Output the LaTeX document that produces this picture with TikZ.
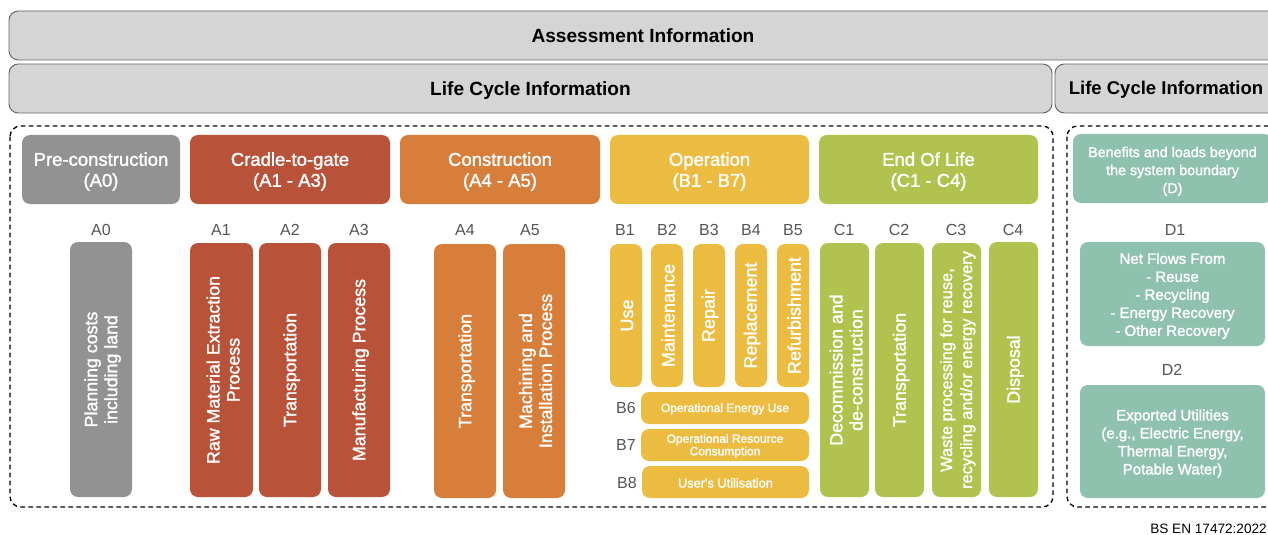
\documentclass[tikz,border=0pt]{standalone}
\usepackage{fontspec}
\setmainfont{Liberation Sans}
\newfontfamily\medf[FakeBold=1.6]{Liberation Sans}
\newcommand\fp[2]{\fontsize{\the\dimexpr#1pt*3/4\relax}{\the\dimexpr#2pt*3/4\relax}\selectfont}
\definecolor{cgrey}{HTML}{929292}
\definecolor{cred}{HTML}{B8533A}
\definecolor{corange}{HTML}{D67E3A}
\definecolor{cyellow}{HTML}{ECBC41}
\definecolor{cgreen}{HTML}{B2C24E}
\definecolor{cteal}{HTML}{8FC1AF}
\definecolor{cpanel}{HTML}{D5D5D5}
\definecolor{cedge}{HTML}{666666}
\definecolor{clabel}{HTML}{555555}
\tikzset{
  cell/.style={inner sep=0pt,rounded corners=6pt},
  words/.style={inner sep=0pt,align=center,text=white},
  panel/.style={draw=cedge,line width=0.7pt,fill=cpanel,rounded corners=7pt},
  title/.style={inner sep=0pt,yshift=-1.5pt,font=\fp{19.1}{24}\bfseries},
  titleb/.style={inner sep=0pt,yshift=-1.5pt,font=\fp{18.5}{24}\bfseries},
  zone/.style={draw=black,line width=1pt,dash pattern=on 3.4pt off 2.6pt,rounded corners=8pt},
  tag/.style={inner sep=0pt,text=clabel,font=\fp{16}{18}},
  head/.style={yshift=-1.5pt,font=\medf\fp{18.5}{21}},
  headd/.style={yshift=-2.2pt,font=\medf\fp{14.3}{18}},
  bar/.style={xshift=1.2pt,font=\medf\fp{17.8}{20}},
  bars/.style={xshift=0.8pt,font=\medf\fp{18}{20}},
  barw/.style={xshift=1pt,font=\medf\fp{16.4}{20}},
  note/.style={yshift=-1.5pt,font=\medf\fp{15}{18}},
  thin/.style={yshift=-0.7pt,font=\medf\fp{12}{11}},
  thinb/.style={yshift=-0.7pt,font=\medf\fp{12.8}{11}},
}
% name, x0, y0, x1, y1, text style, colour, text
\newcommand\hcell[8]{%
  \pgfmathsetmacro\cellw{(#4-#2)*0.75}\pgfmathsetmacro\cellh{(#5-#3)*0.75}%
  \node[cell,fill=#7,minimum width=\cellw pt,minimum height=\cellh pt] (#1) at ({(#2+#4)/2},{(#3+#5)/2}) {};
  \node[words,#6] (#1-text) at (#1.center) {#8};}
\newcommand\vcell[8]{%
  \pgfmathsetmacro\cellw{(#4-#2)*0.75}\pgfmathsetmacro\cellh{(#5-#3)*0.75}%
  \node[cell,fill=#7,minimum width=\cellw pt,minimum height=\cellh pt] (#1) at ({(#2+#4)/2},{(#3+#5)/2}) {};
  \node[words,#6,rotate=90] (#1-text) at (#1.center) {#8};}
\begin{document}
\begin{tikzpicture}[x=0.75pt,y=-0.75pt]
\useasboundingbox (0,0) rectangle (1268,535);
\clip (0,0) rectangle (1268,535);
\fill[white] (0,0) rectangle (1268,535);
% panels
\draw[panel] (9,11) rectangle (1295,60);
\node[title] (assess) at (643,33.5) {Assessment Information};
\draw[panel] (9,64) rectangle (1052,113);
\node[title] (lci) at (530.5,88.5) {Life Cycle Information};
\draw[panel] (1055,64) rectangle (1295,113);
\node[titleb] (lcid) at (1166,88) {Life Cycle Information};
% zones
\draw[zone] (10,126) rectangle (1053,507);
\draw[zone] (1067,126) rectangle (1295,507);
% headers
\hcell{h0}{22}{135}{180}{204}{head}{cgrey}{Pre-construction\\(A0)}
\hcell{h1}{190}{135}{390}{204}{head}{cred}{Cradle-to-gate\\(A1 - A3)}
\hcell{h2}{400}{135}{600}{204}{head}{corange}{Construction\\(A4 - A5)}
\hcell{h3}{610}{135}{809}{204}{head}{cyellow}{Operation\\(B1 - B7)}
\hcell{h4}{819}{135}{1038}{204}{head}{cgreen}{End Of Life\\(C1 - C4)}
\hcell{h5}{1073}{134}{1272}{203}{headd}{cteal}{Benefits and loads beyond\\the system boundary\\(D)}
% tags
\node[tag] (tA0) at (101,230) {A0};
\node[tag] (tA1) at (221,230) {A1};
\node[tag] (tA2) at (290,230) {A2};
\node[tag] (tA3) at (359,230) {A3};
\node[tag] (tA4) at (465,230) {A4};
\node[tag] (tA5) at (530,230) {A5};
\node[tag] (tB1) at (625,230) {B1};
\node[tag] (tB2) at (667,230) {B2};
\node[tag] (tB3) at (709,230) {B3};
\node[tag] (tB4) at (751,230) {B4};
\node[tag] (tB5) at (793,230) {B5};
\node[tag] (tC1) at (844,230) {C1};
\node[tag] (tC2) at (899,230) {C2};
\node[tag] (tC3) at (956,230) {C3};
\node[tag] (tC4) at (1013,230) {C4};
\node[tag] (tB6) at (626,408) {B6};
\node[tag] (tB7) at (626,445) {B7};
\node[tag] (tB8) at (627,483) {B8};
\node[tag] (tD1) at (1175,230) {D1};
\node[tag] (tD2) at (1172,370) {D2};
% bars
\vcell{a0}{70}{242}{132}{497}{bar}{cgrey}{Planning costs\\including land}
\vcell{a1}{190}{243}{253}{497}{bar}{cred}{Raw Material Extraction\\Process}
\vcell{a2}{259}{243}{321}{497}{bar}{cred}{Transportation}
\vcell{a3}{328}{243}{390}{497}{bar}{cred}{Manufacturing Process}
\vcell{a4}{434}{244}{496}{498}{bar}{corange}{Transportation}
\vcell{a5}{503}{244}{565}{498}{bar}{corange}{Machining and\\Installation Process}
\vcell{b1}{610}{244}{642}{387}{bars}{cyellow}{Use}
\vcell{b2}{651}{244}{683}{387}{bars}{cyellow}{Maintenance}
\vcell{b3}{693}{244}{725}{387}{bars}{cyellow}{Repair}
\vcell{b4}{735}{244}{767}{387}{bars}{cyellow}{Replacement}
\vcell{b5}{777}{244}{809}{387}{bars}{cyellow}{Refurbishment}
\hcell{b6}{641}{392}{809}{424}{thin}{cyellow}{Operational Energy Use}
\hcell{b7}{641}{429}{809}{461}{thin}{cyellow}{Operational Resource\\Consumption}
\hcell{b8}{642}{466}{809}{498}{thinb}{cyellow}{User's Utilisation}
\vcell{c1}{820}{243}{869}{497}{bar}{cgreen}{Decommission and\\de-construction}
\vcell{c2}{875}{243}{924}{497}{bar}{cgreen}{Transportation}
\vcell{c3}{932}{243}{981}{497}{barw}{cgreen}{Waste processing for reuse,\\recycling and/or energy recovery}
\vcell{c4}{989}{242}{1038}{497}{bar}{cgreen}{Disposal}
\hcell{d1}{1080}{242}{1265}{346}{note}{cteal}{Net Flows From\\- Reuse\\- Recycling\\- Energy Recovery\\- Other Recovery}
\hcell{d2}{1080}{385}{1265}{498}{note}{cteal}{Exported Utilities\\(e.g., Electric Energy,\\Thermal Energy,\\Potable Water)}
\node[inner sep=0pt,anchor=east,font=\fp{13.6}{14}] (src) at (1267,529) {BS EN 17472:2022};
\end{tikzpicture}
\end{document}
